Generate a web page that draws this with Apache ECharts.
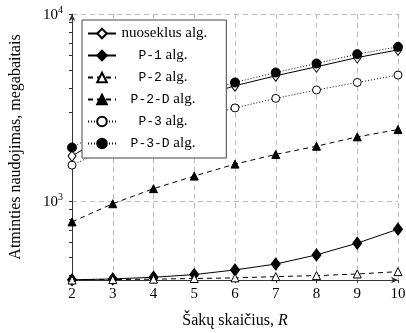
<!DOCTYPE html>
<html>
<head>
<meta charset="utf-8">
<script src="https://cdn.jsdelivr.net/npm/echarts@6/dist/echarts.min.js"></script>
<style>
  html, body { margin: 0; padding: 0; background: #fff; }
  #chart { width: 406px; height: 333px; }
</style>
</head>
<body>
<div id="chart"></div>
<script>
  // R values (x axis)
  const branches = [2, 3, 4, 5, 6, 7, 8, 9, 10]
  // memory use, MB (R=3..5 of the top three are under the legend)
  const sequential = [1740, 2340, 2940, 3540, 4134, 4674, 5220, 5850, 6430]
  const p1 = [379, 383, 391, 404, 428, 460, 515, 595, 707]
  const p2 = [378, 380, 382, 385, 388, 394, 399, 407, 419]
  const p2d = [773, 967, 1164, 1359, 1575, 1774, 1963, 2203, 2410]
  const p3 = [1555, 1950, 2350, 2750, 3146, 3539, 3923, 4305, 4714]
  const p3d = [1932, 2520, 3110, 3710, 4303, 4867, 5436, 6100, 6672]

  const yMin = 378
  const yMax = 10000
  const yMajorTicks = [1000, 10000]
  const yMinorTicks = [400, 500, 600, 700, 800, 900, 2000, 3000, 4000, 5000, 6000, 7000, 8000, 9000]

  const serif = 'Liberation Serif'
  const mono = 'Liberation Mono'
  const gridColor = '#bbb'
  const axisColor = '#333'
  const legendTextWidth = 84

  function makeSeries (name, values, symbol, size, filled, dash) {
    return {
      name: name,
      type: 'line',
      data: branches.map((r, i) => [r, values[i]]),
      symbol: symbol,
      symbolSize: size,
      color: '#000',
      lineStyle: { color: '#000', width: 1, type: dash },
      itemStyle: { color: filled ? '#000' : '#fff', borderColor: '#000', borderWidth: 1 },
      emphasis: { disabled: true }
    }
  }

  const series = [
    makeSeries('nuoseklus alg.', sequential, 'diamond', [8, 11], false, 'solid'),
    makeSeries('P-1 alg.', p1, 'diamond', [9, 12], true, 'solid'),
    makeSeries('P-2 alg.', p2, 'triangle', 8, false, [5, 4]),
    makeSeries('P-2-D alg.', p2d, 'triangle', 8, true, [5, 4]),
    makeSeries('P-3 alg.', p3, 'circle', 8, false, [1, 2]),
    makeSeries('P-3-D alg.', p3d, 'circle', 9, true, [1, 2])
  ]

  // legend entries are centred in their cell, like the original
  const ctx = document.createElement('canvas').getContext('2d')
  function textWidth (str, font) {
    ctx.font = font
    return ctx.measureText(str).width
  }
  const legendRich = {
    s: { fontFamily: serif, fontSize: 15, lineHeight: 14, color: '#000' },
    t: { fontFamily: mono, fontSize: 13, lineHeight: 14, color: '#000' }
  }
  const legendLabels = {}
  series.forEach(function (s, i) {
    const parts = s.name.split(' ')
    let w, text
    if (parts[0].indexOf('P-') === 0) {
      w = textWidth(parts[0], '13px ' + mono) + textWidth(' ' + parts[1], '15px ' + serif)
      text = '{t|' + parts[0] + '}{s| ' + parts[1] + '}'
    } else {
      w = textWidth(s.name, '15px ' + serif)
      text = '{s|' + s.name + '}'
    }
    const pad = Math.max(0.5, (legendTextWidth - w) / 2)
    legendRich['g' + i] = { width: pad, fontSize: 14, lineHeight: 14 }
    legendLabels[s.name] = '{g' + i + '| }' + text
  })

  const chart = echarts.init(document.getElementById('chart'))
  chart.setOption({
    animation: false,
    grid: { left: 72, right: 8, top: 14, bottom: 53, outerBoundsMode: 'none' },
    legend: {
      orient: 'vertical',
      left: 82,
      top: 20,
      data: series.map(s => s.name),
      backgroundColor: '#fff',
      borderColor: '#444',
      borderWidth: 1,
      borderRadius: 0,
      padding: [6, 19, 7, 5],
      itemWidth: 28,
      itemHeight: 12,
      itemGap: 7,
      selectedMode: false,
      textStyle: { width: legendTextWidth, lineHeight: 14, color: '#000', rich: legendRich },
      formatter: function (name) {
        return legendLabels[name]
      }
    },
    xAxis: {
      type: 'value',
      min: 2,
      max: 10,
      interval: 1,
      name: 'Šakų skaičius, {i|R}',
      nameLocation: 'middle',
      nameGap: 33,
      nameTextStyle: {
        fontFamily: serif, fontSize: 16, color: '#000',
        rich: { i: { fontFamily: serif, fontSize: 16, fontStyle: 'italic', color: '#000' } }
      },
      axisLine: { lineStyle: { color: axisColor }, symbol: ['none', 'arrow'], symbolSize: [5, 7] },
      axisTick: { length: 3, lineStyle: { color: axisColor } },
      axisLabel: { margin: 7, fontFamily: serif, fontSize: 15, color: '#000' },
      splitLine: { show: true, lineStyle: { color: gridColor, type: [5, 4] } }
    },
    yAxis: [
      {
        type: 'log',
        logBase: 10,
        min: yMin,
        max: yMax,
        name: 'Atminties naudojimas, megabaitais',
        nameLocation: 'middle',
        nameGap: 48,
        nameTextStyle: { fontFamily: serif, fontSize: 16, color: '#000' },
        axisLine: { show: true, lineStyle: { color: axisColor }, symbol: ['none', 'arrow'], symbolSize: [5, 7] },
        axisTick: { show: false },
        axisLabel: {
          margin: 9,
          formatter: function (v) {
            for (let k = 0; k < yMajorTicks.length; k++) {
              if (Math.abs(v - yMajorTicks[k]) < 1) {
                return '{b|10}{p|' + Math.round(Math.log10(yMajorTicks[k])) + '}'
              }
            }
            return ''
          },
          rich: {
            b: { fontFamily: serif, fontSize: 15, color: '#000', lineHeight: 18, verticalAlign: 'bottom' },
            p: { fontFamily: serif, fontSize: 10, color: '#000', lineHeight: 18, verticalAlign: 'top' }
          }
        },
        splitLine: { show: true, lineStyle: { color: gridColor, type: [5, 4] } }
      },
      {
        type: 'log',
        logBase: 10,
        min: yMin,
        max: yMax,
        position: 'left',
        axisLine: { show: false },
        axisLabel: { show: false },
        splitLine: { show: false },
        axisTick: { show: true, length: 3, customValues: yMinorTicks.concat(yMajorTicks), lineStyle: { color: axisColor } }
      }
    ],
    series: series
  })
</script>
</body>
</html>
